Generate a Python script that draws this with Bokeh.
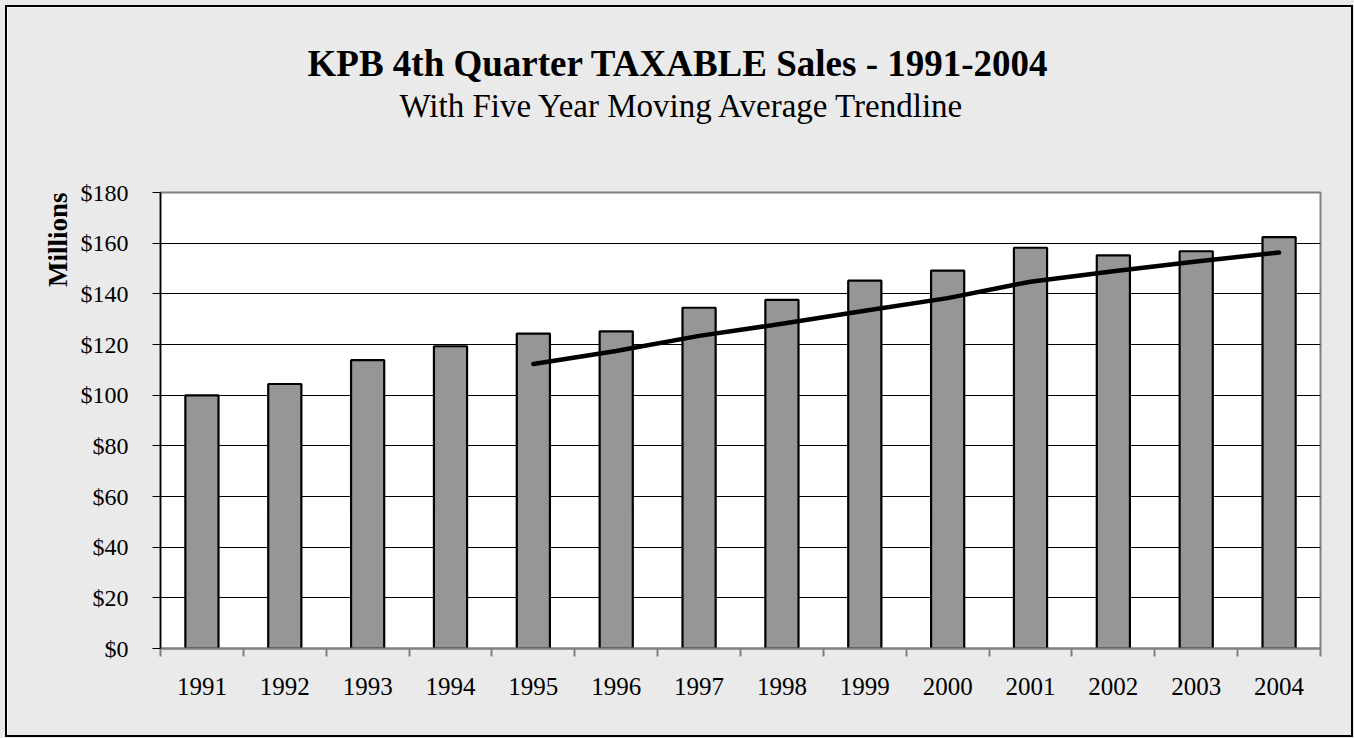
import numpy as np
from bokeh.plotting import figure
from bokeh.models import Range1d, FixedTicker, NumeralTickFormatter, Title
from bokeh.embed import file_html
from bokeh.resources import INLINE

# ---- data ----
years = ["1991", "1992", "1993", "1994", "1995", "1996", "1997",
         "1998", "1999", "2000", "2001", "2002", "2003", "2004"]
sales = [99.9, 104.4, 113.8, 119.3, 124.3, 125.2, 134.5,
         137.6, 145.2, 149.2, 158.2, 155.2, 156.8, 162.4]
# five-year moving average trendline (starts at 1995)
trend = [np.nan, np.nan, np.nan, np.nan, 112.3, 117.4, 123.4,
         128.2, 133.3, 138.3, 144.8, 148.9, 152.8, 156.3]
y_ticks = [0, 20, 40, 60, 80, 100, 120, 140, 160, 180]

title_text = "KPB 4th Quarter TAXABLE Sales - 1991-2004"
subtitle_text = "With Five Year Moving Average Trendline"
y_label = "Millions"

FONT = "Liberation Serif"
BG = "#EAEAEA"

n = len(years)
xpos = [i + 0.5 for i in range(n)]

p = figure(width=1344, height=728, margin=(7, 3, 3, 7),
           x_range=Range1d(0, n), y_range=Range1d(0, 180),
           output_backend="svg", toolbar_location=None,
           min_border_left=153, min_border_right=31,
           min_border_top=185, min_border_bottom=87,
           background_fill_color="white", border_fill_color=BG,
           outline_line_color="#808080", outline_line_width=2,
           styles={"box-shadow": "0 0 0 2px #000000, 0 0 0 12px " + BG})
try:
    p.title = None
except Exception:
    p.title.text = ""

p.vbar(x=xpos, top=sales, width=0.4, fill_color="#969696",
       line_color="black", line_width=2.2)
p.line(x=xpos, y=trend, line_color="black", line_width=4.5,
       line_cap="round", line_join="round")

# x axis: labels at category centres, ticks at category boundaries
p.xaxis.ticker = FixedTicker(ticks=xpos, minor_ticks=list(range(n + 1)))
p.xaxis.major_label_overrides = {float(xv): yr for xv, yr in zip(xpos, years)}
p.xaxis.major_tick_out = 0
p.xaxis.major_tick_in = 0
p.xaxis.minor_tick_out = 8
p.xaxis.minor_tick_in = 0
p.xaxis.minor_tick_line_color = "#808080"
p.xaxis.minor_tick_line_width = 2
p.xaxis.axis_line_color = "#808080"
p.xaxis.axis_line_width = 2
p.xaxis.major_label_text_font = FONT
p.xaxis.major_label_text_font_size = "25px"
p.xaxis.major_label_text_color = "black"
p.xaxis.major_label_standoff = 21

# y axis
p.yaxis.ticker = FixedTicker(ticks=y_ticks, minor_ticks=[])
p.yaxis.formatter = NumeralTickFormatter(format="$0")
p.yaxis.major_tick_out = 8
p.yaxis.major_tick_in = 0
p.yaxis.major_tick_line_color = "black"
p.yaxis.axis_line_color = "black"
p.yaxis.axis_line_width = 1.5
p.yaxis.major_label_text_font = FONT
p.yaxis.major_label_text_font_size = "24px"
p.yaxis.major_label_text_color = "black"
p.yaxis.major_label_standoff = 24

p.xgrid.visible = False
p.ygrid.ticker = FixedTicker(ticks=y_ticks[1:-1])
p.ygrid.grid_line_color = "black"
p.ygrid.grid_line_width = 1

# titles: first added sits nearest the frame
sub = Title(text=subtitle_text, text_font=FONT, text_font_size="33px",
            text_font_style="normal", align="left", offset=239,
            text_color="black", standoff=138)
main = Title(text=title_text, text_font=FONT, text_font_size="37px",
             text_font_style="bold", align="left", offset=147,
             text_color="black", standoff=0)
try:
    main.standoff = -135
except Exception:
    main.standoff = 0
p.add_layout(sub, "above")
p.add_layout(main, "above")
p.add_layout(Title(text=y_label, text_font=FONT, text_font_size="27px",
                   text_font_style="bold", align="right",
                   text_color="black", standoff=9), "left")

open("out.html", "w").write(file_html(p, INLINE))
